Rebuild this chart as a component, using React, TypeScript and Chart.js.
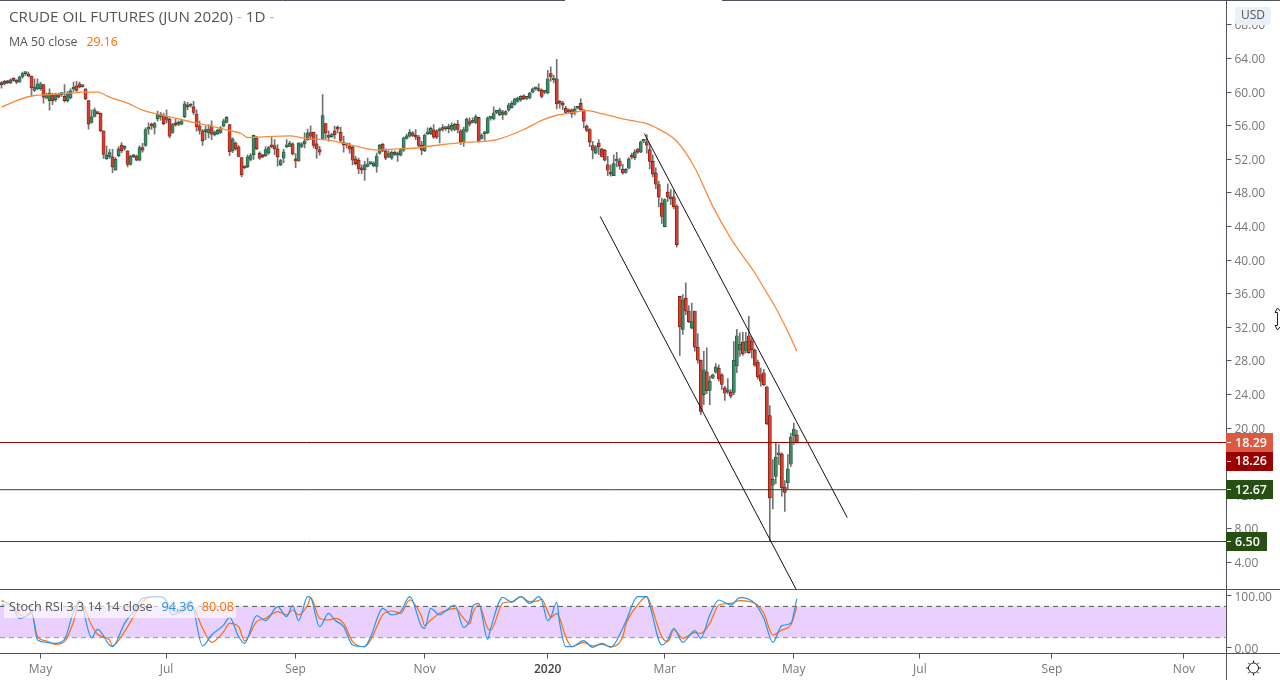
import React, { useEffect, useRef } from "react";
import Chart from "chart.js/auto";

const FONT = "'Open Sans', sans-serif";

// daily candles (bar index = position in the arrays)
const opens = [
  61.1, 61.0, 61.3, 61.1, 61.6, 61.26, 61.2, 61.8, 62.2, 62.05,
  61.9, 60.2, 60.4, 60.4, 60.9, 59.3, 59.0, 59.7, 59.1, 59.7,
  59.7, 59.5, 59.0, 59.3, 60.35, 60.75, 61.0, 60.65, 60.4, 59.0,
  56.4, 57.1, 57.5, 57.5, 55.4, 52.05, 52.3, 52.3, 50.7, 52.45,
  53.7, 53.3, 53.0, 51.4, 52.3, 52.4, 51.9, 53.4, 53.65, 55.6,
  56.1, 55.8, 56.85, 57.05, 57.2, 56.65, 56.8, 55.2, 56.25, 56.15,
  56.2, 57.05, 58.5, 58.35, 58.25, 57.4, 56.0, 55.4, 55.3, 55.15,
  56.0, 54.9, 55.05, 55.2, 55.95, 56.4, 56.15, 53.0, 53.95, 53.5,
  52.2, 51.1, 51.1, 52.0, 52.55, 54.55, 52.75, 52.5, 52.45, 52.75,
  53.65, 53.65, 53.25, 51.35, 52.15, 53.5, 53.55, 53.85, 52.05, 51.8,
  53.55, 53.85, 54.35, 55.2, 55.25, 53.85, 53.15, 54.5, 56.25, 54.9,
  54.7, 55.4, 55.75, 55.25, 53.9, 53.85, 53.6, 53.45, 52.05, 51.9,
  50.85, 50.75, 51.15, 51.5, 51.25, 51.15, 52.75, 53.8, 53.0, 52.35,
  52.15, 52.85, 52.5, 52.5, 53.1, 54.5, 54.75, 55.15, 54.85, 54.65,
  53.7, 53.0, 55.05, 55.05, 55.5, 55.35, 55.4, 55.75, 55.65, 55.7,
  55.55, 55.55, 56.2, 55.4, 53.95, 55.35, 56.5, 56.4, 56.4, 57.0,
  54.5, 55.05, 55.15, 56.9, 56.8, 57.6, 57.3, 57.65, 57.35, 57.85,
  58.15, 58.55, 58.9, 59.1, 59.55, 59.25, 59.3, 60.0, 60.4, 60.4,
  60.25, 60.0, 59.9, 62.2, 61.45, 61.6, 58.8, 58.7, 58.1, 57.65,
  57.9, 57.6, 58.1, 58.7, 57.9, 55.95, 55.55, 53.65, 52.75, 53.95,
  53.25, 53.1, 51.35, 50.5, 50.05, 51.8, 51.8, 50.85, 50.45, 50.95,
  52.5, 52.2, 53.15, 52.85, 54.15, 54.1, 53.15, 51.75, 50.4, 49.0,
  46.8, 44.0, 48.1, 47.3, 47.55, 46.45, 35.7, 31.75, 35.45, 33.95,
  31.9, 33.95, 29.65, 28.1, 24.0, 26.7, 24.5, 25.95, 26.65, 27.15,
  26.35, 24.8, 24.3, 24.3, 24.25, 27.4, 29.3, 30.25, 29.25, 31.0,
  30.4, 29.3, 27.85, 26.35, 26.6, 24.9, 21.5, 13.2, 14.25, 16.8,
  16.9, 13.0, 13.5, 15.7, 19.05, 19.2,
];
const highs = [
  61.26, 61.42, 61.4, 61.6, 61.7, 61.5, 61.9, 62.4, 62.4, 62.4,
  61.9, 61.6, 61.6, 61.2, 60.9, 59.9, 60.4, 59.9, 59.9, 59.9,
  59.9, 60.9, 60.1, 60.4, 61.2, 61.3, 61.2, 60.8, 60.4, 59.0,
  57.9, 58.1, 57.6, 57.5, 55.4, 53.6, 53.2, 53.2, 52.2, 53.5,
  54.0, 53.6, 53.0, 52.5, 52.6, 52.5, 53.6, 53.9, 55.75, 56.35,
  56.35, 56.4, 57.75, 57.6, 57.5, 57.9, 56.95, 56.3, 56.8, 56.6,
  56.8, 58.9, 58.8, 58.65, 58.9, 57.9, 56.55, 55.55, 55.95, 56.15,
  56.6, 55.4, 55.6, 55.9, 56.8, 57.1, 56.15, 54.55, 54.1, 53.65,
  52.2, 51.2, 52.55, 52.7, 54.9, 54.75, 52.9, 52.6, 53.5, 53.55,
  54.7, 54.35, 53.75, 52.0, 53.2, 54.35, 54.15, 54.0, 52.7, 54.0,
  54.0, 55.15, 55.6, 56.0, 55.25, 54.95, 53.55, 59.7, 56.25, 55.4,
  55.1, 55.95, 56.0, 55.85, 54.75, 53.95, 53.95, 53.55, 52.35, 52.15,
  51.35, 51.75, 52.15, 51.65, 51.7, 52.75, 53.8, 53.9, 53.25, 53.0,
  53.0, 53.0, 52.9, 53.3, 54.65, 55.0, 55.55, 55.3, 55.55, 54.85,
  54.15, 55.0, 55.75, 55.85, 56.15, 55.55, 55.75, 56.15, 55.85, 56.2,
  56.35, 56.3, 56.65, 55.55, 55.85, 56.95, 56.95, 56.95, 57.3, 57.0,
  55.05, 55.35, 57.05, 57.1, 58.25, 57.75, 58.1, 57.85, 57.8, 58.7,
  58.9, 59.3, 59.4, 59.6, 59.7, 59.4, 60.0, 60.5, 60.5, 61.0,
  60.4, 60.1, 62.6, 63.0, 62.0, 63.9, 59.0, 58.9, 58.3, 58.0,
  58.0, 58.3, 58.3, 59.2, 57.9, 56.1, 55.65, 54.15, 53.65, 54.35,
  53.35, 53.2, 52.35, 51.35, 52.55, 52.85, 52.15, 51.4, 50.9, 52.2,
  52.75, 53.15, 53.3, 54.2, 54.3, 54.95, 53.75, 52.55, 51.0, 49.4,
  47.4, 47.3, 49.1, 48.4, 48.3, 46.6, 35.7, 35.9, 37.3, 34.6,
  34.9, 33.95, 31.25, 28.1, 29.15, 29.55, 26.2, 26.45, 27.7, 27.55,
  26.5, 25.0, 25.9, 24.6, 30.3, 31.75, 31.35, 31.4, 31.4, 33.3,
  30.75, 29.45, 28.1, 27.15, 27.0, 25.0, 22.7, 16.25, 18.3, 18.05,
  17.05, 13.75, 16.85, 19.4, 20.6, 19.75,
];
const lows = [
  60.47, 60.86, 61.0, 61.0, 61.3, 61.0, 61.2, 61.65, 62.0, 61.8,
  59.5, 60.1, 60.3, 60.2, 58.7, 59.2, 57.85, 58.5, 58.9, 59.3,
  59.5, 58.8, 58.8, 59.2, 60.1, 60.1, 60.5, 60.6, 59.1, 55.6,
  56.3, 57.05, 57.4, 55.3, 52.1, 52.0, 52.1, 50.4, 50.7, 52.3,
  52.8, 53.1, 51.1, 51.3, 52.2, 51.8, 51.8, 52.85, 53.55, 55.0,
  55.55, 55.0, 56.55, 56.65, 56.1, 56.35, 54.55, 55.1, 55.95, 56.0,
  56.1, 56.95, 57.9, 58.2, 57.35, 55.35, 55.0, 53.65, 54.35, 54.55,
  54.35, 54.8, 54.95, 55.1, 55.85, 56.35, 52.45, 52.8, 53.1, 52.3,
  49.9, 50.9, 51.0, 51.8, 52.0, 53.15, 52.0, 52.2, 52.35, 52.6,
  53.35, 52.55, 51.2, 51.25, 51.6, 53.35, 53.5, 52.5, 51.0, 51.75,
  53.4, 53.35, 54.25, 54.35, 53.35, 52.15, 52.5, 54.45, 54.45, 54.15,
  54.6, 54.45, 55.15, 53.95, 52.85, 53.35, 52.75, 51.35, 51.35, 50.3,
  50.3, 49.5, 51.1, 51.4, 51.1, 50.45, 52.6, 52.9, 51.95, 52.2,
  52.0, 52.45, 51.75, 52.4, 52.95, 54.4, 54.65, 54.7, 54.35, 53.35,
  52.55, 52.9, 54.95, 54.95, 54.5, 54.45, 53.95, 55.35, 55.45, 55.15,
  55.35, 55.4, 55.15, 53.75, 53.55, 55.25, 55.95, 56.35, 56.25, 54.05,
  54.4, 54.25, 55.05, 56.65, 56.7, 57.45, 57.2, 56.75, 57.25, 57.75,
  58.1, 58.45, 58.8, 58.9, 59.1, 59.1, 59.2, 59.9, 60.25, 60.1,
  59.3, 59.8, 59.8, 61.3, 61.1, 58.0, 58.1, 57.9, 57.5, 57.55,
  57.0, 57.3, 58.0, 57.85, 55.75, 55.3, 53.5, 52.05, 52.65, 52.55,
  52.25, 51.8, 50.05, 50.0, 50.05, 51.1, 50.8, 50.2, 50.35, 50.85,
  52.05, 51.95, 52.7, 52.8, 54.0, 52.75, 50.85, 49.9, 48.5, 46.35,
  44.35, 43.95, 47.0, 46.6, 46.1, 41.55, 28.65, 31.15, 33.5, 32.55,
  31.8, 29.15, 27.75, 21.6, 22.8, 24.1, 22.8, 25.9, 26.55, 25.6,
  24.6, 23.3, 24.1, 23.6, 24.0, 26.6, 28.55, 28.65, 28.95, 28.9,
  28.35, 27.35, 25.85, 25.0, 25.05, 20.4, 6.5, 10.4, 13.4, 15.65,
  11.9, 10.1, 12.75, 15.45, 18.05, 18.25,
];
const closes = [
  60.9, 61.3, 61.1, 61.46, 61.4, 61.2, 61.8, 62.2, 62.2, 61.9,
  60.5, 60.6, 61.0, 61.0, 59.4, 59.6, 59.9, 59.0, 59.7, 59.4,
  59.7, 59.0, 59.9, 60.15, 60.6, 60.2, 60.6, 60.7, 59.2, 56.2,
  57.05, 57.9, 57.45, 55.4, 52.6, 52.5, 52.8, 51.1, 52.0, 53.25,
  53.0, 53.3, 51.4, 52.4, 52.4, 51.9, 53.4, 53.1, 55.55, 55.6,
  55.95, 56.25, 57.35, 57.35, 56.25, 57.05, 54.75, 56.15, 56.1, 56.4,
  56.6, 58.6, 58.25, 58.35, 57.6, 55.85, 55.45, 54.2, 55.3, 55.6,
  55.0, 55.25, 55.45, 55.75, 56.6, 57.0, 52.9, 54.45, 53.25, 52.35,
  50.15, 51.0, 52.3, 52.45, 54.85, 53.25, 52.15, 52.3, 53.15, 53.4,
  53.5, 53.25, 52.3, 51.85, 52.9, 53.5, 53.95, 52.65, 51.8, 53.95,
  53.85, 54.2, 55.15, 54.75, 53.65, 53.25, 52.85, 57.2, 55.15, 54.6,
  54.9, 54.9, 55.6, 54.25, 53.75, 53.7, 53.2, 51.9, 51.5, 50.85,
  50.75, 51.35, 51.45, 51.55, 51.55, 52.4, 53.7, 53.0, 52.15, 52.7,
  52.85, 52.6, 52.6, 53.15, 54.55, 54.8, 55.25, 54.85, 54.65, 53.65,
  53.1, 54.9, 55.05, 55.7, 54.65, 54.65, 55.6, 55.55, 55.65, 55.65,
  56.05, 56.2, 55.55, 54.05, 55.55, 56.8, 56.2, 56.55, 57.1, 54.15,
  54.9, 55.05, 56.95, 56.9, 57.55, 57.6, 57.9, 57.35, 57.7, 58.5,
  58.7, 59.2, 59.3, 59.5, 59.2, 59.25, 59.9, 60.4, 60.4, 60.2,
  59.5, 60.0, 61.6, 61.8, 61.45, 58.6, 58.7, 58.45, 57.6, 57.9,
  57.4, 58.0, 58.1, 57.9, 56.55, 55.45, 54.05, 53.1, 53.5, 53.5,
  52.35, 51.9, 50.7, 50.25, 51.5, 51.8, 51.2, 50.4, 50.8, 52.05,
  52.25, 52.9, 52.85, 54.1, 54.15, 53.7, 51.75, 50.25, 49.05, 47.5,
  45.2, 47.2, 47.5, 47.3, 46.35, 41.85, 32.05, 35.25, 33.95, 32.65,
  32.7, 29.65, 28.1, 22.0, 26.95, 24.45, 25.6, 26.35, 27.3, 25.85,
  25.2, 24.15, 24.55, 23.8, 28.1, 31.0, 30.0, 28.85, 30.3, 29.0,
  29.35, 27.5, 26.1, 25.6, 25.15, 20.5, 11.7, 13.9, 16.55, 17.05,
  12.9, 12.35, 15.15, 18.95, 19.9, 18.3,
];

// MA 50, read at the turning points of the curve
const maIndex = [
  0, 5, 11, 16, 22, 27, 32, 36, 42, 47, 53, 58, 64, 70, 75, 80, 82, 88, 96, 101,
  109, 116, 121, 125, 132, 138, 141, 148, 155, 161, 166, 174, 180, 185, 190, 195,
  200, 208, 215, 219, 225, 231, 237, 243, 247, 251, 254, 258, 262, 265,
];
const maValues = [
  58.2, 59.0, 59.6, 59.7, 59.85, 60.0, 60.0, 59.4, 58.7, 57.85, 57.3, 56.9, 56.4, 55.95, 55.5, 55.05, 54.6, 54.7, 54.8, 54.5,
  54.3, 53.75, 53.3, 53.1, 53.25, 53.35, 53.5, 53.8, 54.05, 54.15, 54.45, 55.55, 56.65, 57.25, 57.55, 57.8,
  57.45, 56.75, 56.25, 55.6, 54.15, 51.0, 46.4, 42.6, 40.5, 38.5, 36.7, 34.3, 31.5, 29.16,
];

// Stoch RSI
const stochIndex = [
  0, 3, 6, 8, 10, 12, 15, 18, 21, 24, 26, 30, 32, 36, 37, 41, 44, 47, 51, 54,
  57, 60, 63, 67, 70, 74, 76, 79, 81, 85, 88, 92, 95, 97, 99, 102, 103, 106, 109, 111,
  114, 117, 121, 123, 127, 130, 133, 136, 140, 141, 143, 146, 148, 151, 154, 156, 157, 159, 162, 163,
  167, 170, 173, 176, 179, 180, 182, 183, 185, 186, 188, 190, 194, 197, 200, 203, 207, 208, 212, 215,
  216, 220, 222, 224, 227, 231, 233, 236, 239, 243, 246, 251, 254, 257, 260, 263, 265,
];
const stochK = [
  82.7, 82.7, 57, 60.3, 69.9, 15.4, 10.9, 9, 16.7, 69.9, 91, 19.9, 35.9, 5.8, 2.6, 47.4, 69.9, 95.5, 98.7, 96.8,
  63.5, 73, 90.4, 3.8, 25, 44, 59, 21.8, 9, 62.2, 52.6, 79.5, 60.3, 81.4, 52.6, 98.7, 96.8, 41, 66.7, 53.8,
  41, 5.8, 2.6, 21.8, 76.3, 63.5, 69.9, 98.7, 41, 37.8, 76.3, 63.5, 71.1, 82.7, 39.7, 53.8, 79.5, 85.9, 16.7, 37.8,
  97.4, 87.8, 98.7, 85.9, 98.7, 92.3, 52.6, 58.3, 87.8, 47.4, 2.6, 2.6, 14.1, 1.3, 9, 1.3, 37.8, 50.6, 98.7, 98.7,
  82.7, 5.8, 15.4, 37.8, 10.9, 33.3, 18.6, 63.5, 92.3, 82.7, 96.8, 85.9, 57, 10.9, 43, 47.4, 94.36,
];
const stochD = [
  91, 82.7, 64.7, 60.3, 66.7, 21.8, 13.5, 7, 12.2, 50.6, 89, 44.2, 26.3, 15.4, 3.9, 31.4, 60.3, 89, 98.7, 96.8,
  73, 68.6, 85.9, 37.8, 10.9, 31.4, 47.4, 41, 13.5, 50.6, 57, 69.9, 63.5, 73, 63.5, 82.7, 96.8, 57, 53.8, 57,
  47.4, 12.2, 2.6, 15.4, 63.5, 71.1, 66.7, 92.3, 60.3, 43, 53.8, 66.7, 71.8, 76.3, 57, 46.1, 66.7, 82.7, 37.8, 34.6,
  85.9, 89, 98.7, 89, 91, 94.2, 69.9, 59, 66.7, 57, 21.8, 2.6, 10.9, 3.9, 7, 2.6, 21.8, 44.2, 82.7, 98.7,
  89, 21.8, 12.2, 34.6, 18.6, 29.5, 28.2, 47.4, 82.7, 85.9, 91, 85.9, 66.7, 25, 34.6, 44.2, 80.08,
];
const bandLevels = [80, 20];

// channel lines and horizontal levels
const upperChannelX = [214.2, 281.8];
const upperChannelY = [55.07, 9.36];
const lowerChannelX = [199.5, 264.8];
const lowerChannelY = [45.2, 0.79];
const levelValues = [18.29, 12.67, 6.5];
const levelColors = ["#990000", "#274e13", "#274e13"];

const priceTicks = [4, 8, 12, 16, 20, 24, 28, 32, 36, 40, 44, 48, 52, 56, 60, 64, 68];
const stochTicks = [0, 100];
const xTickIndex = [13, 55, 98, 141, 182, 221, 264, 306, 350, 394];
const xTickLabels = ["May", "Jul", "Sep", "Nov", "2020", "Mar", "May", "Jul", "Sep", "Nov"];

const X_MIN = -0.5;
const X_MAX = 408.17;

const text = (ctx: CanvasRenderingContext2D, s: string, x: number, y: number, color: string, font: string, align: CanvasTextAlign = "left") => {
  ctx.fillStyle = color;
  ctx.font = font;
  ctx.textAlign = align;
  ctx.textBaseline = "middle";
  ctx.fillText(s, x, y);
  return ctx.measureText(s).width;
};

const hline = (ctx: CanvasRenderingContext2D, x1: number, x2: number, y: number) => {
  ctx.beginPath();
  ctx.moveTo(x1, y);
  ctx.lineTo(x2, y);
  ctx.stroke();
};

// the axes must not push the plot area in for their first and last labels
const noPadding = (axis: any) => {
  axis.paddingTop = 0;
  axis.paddingBottom = 0;
  axis.paddingLeft = 0;
  axis.paddingRight = 0;
};

// frame, legends, price tags and the small toolbar glyphs
const overlay = {
  id: "overlay",
  afterDraw(chart: any) {
    const ctx: CanvasRenderingContext2D = chart.ctx;
    const y = chart.scales.y;
    const tags = [
      { label: "18.29", value: 18.29, shift: 0, bg: "#dd5a42", w: 47 },
      { label: "18.26", value: 18.29, shift: 18.5, bg: "#990000", w: 47 },
      { label: "12.67", value: 12.67, shift: 0, bg: "#274e13", w: 47 },
      { label: "6.50", value: 6.5, shift: 0, bg: "#274e13", w: 41 },
    ];
    ctx.save();

    // pane frame
    ctx.strokeStyle = "#50535e";
    ctx.lineWidth = 1;
    hline(ctx, 0, 565, 0.5);
    hline(ctx, 722, 1280, 0.5);
    hline(ctx, 0, 1280, 589.5);
    hline(ctx, 0, 1280, 653.5);
    ctx.beginPath();
    ctx.moveTo(1226.5, 0);
    ctx.lineTo(1226.5, 680);
    ctx.stroke();

    // title and MA legend
    const titleFont = `15.2px ${FONT}`;
    let tx = 9;
    tx += text(ctx, "CRUDE OIL FUTURES (JUN 2020)", tx, 18, "#555555", titleFont);
    tx += text(ctx, " - ", tx, 18, "#b2b5be", titleFont);
    tx += text(ctx, "1D", tx, 18, "#555555", titleFont);
    text(ctx, " -", tx, 18, "#b2b5be", titleFont);
    const legendFont = `12.3px ${FONT}`;
    const w = text(ctx, "MA 50 close", 9, 42, "#555555", legendFont);
    text(ctx, "29.16", 9 + w + 9, 42, "#ff6d00", legendFont);

    // stoch legend sits on a washed-out strip
    ctx.fillStyle = "rgba(255,255,255,0.65)";
    ctx.fillRect(4, 596, 232, 22);
    const stochFont = `12.6px ${FONT}`;
    const sw = text(ctx, "Stoch RSI 3 3 14 14 close", 9, 607, "#555555", stochFont);
    const kw = text(ctx, "94.36", 9 + sw + 9, 607, "#2196f3", stochFont);
    text(ctx, "80.08", 9 + sw + 9 + kw + 8, 607, "#ff6d00", stochFont);

    // USD badge
    ctx.fillStyle = "#eaf0f8";
    ctx.beginPath();
    ctx.roundRect(1235, 7, 36, 18, 3);
    ctx.fill();
    text(ctx, "USD", 1253, 16, "#555555", `12px ${FONT}`, "center");

    // price tags
    tags.forEach((t) => {
      const cy = y.getPixelForValue(t.value) + t.shift;
      ctx.fillStyle = t.bg;
      ctx.fillRect(1226, Math.round(cy - 9.5), t.w, 19);
      ctx.strokeStyle = "#ffffff";
      hline(ctx, 1227, 1231, Math.round(cy - 0.5) + 0.5);
      text(ctx, t.label, 1235, cy + 0.5, "#ffffff", `600 12.5px ${FONT}`);
    });

    // settings sun
    ctx.strokeStyle = "#222222";
    ctx.beginPath();
    ctx.arc(1253.5, 668, 5, 0, Math.PI * 2);
    ctx.stroke();
    for (let a = 0; a < 8; a++) {
      const c = Math.cos((a * Math.PI) / 4);
      const s = Math.sin((a * Math.PI) / 4);
      ctx.beginPath();
      ctx.moveTo(1253.5 + c * 5, 668 + s * 5);
      ctx.lineTo(1253.5 + c * 7.5, 668 + s * 7.5);
      ctx.stroke();
    }

    // resize cursor cut off by the right edge
    ctx.strokeStyle = "#222222";
    ctx.beginPath();
    ctx.moveTo(1280, 311);
    ctx.lineTo(1277.5, 308);
    ctx.lineTo(1275, 312.5);
    ctx.lineTo(1277.5, 312.5);
    ctx.lineTo(1277.5, 325.5);
    ctx.lineTo(1275, 325.5);
    ctx.lineTo(1277.5, 330);
    ctx.lineTo(1280, 327);
    ctx.stroke();
    ctx.restore();
  },
};

const App = () => {
  const canvasRef = useRef<HTMLCanvasElement | null>(null);

  useEffect(() => {
    document.body.style.margin = "0";
    if (!canvasRef.current) return;

    const isUp = closes.map((c, i) => c >= opens[i]);
    const line = (data: any[], color: string, yAxisID = "y", extra: any = {}) => ({
      type: "line" as const,
      data,
      yAxisID,
      borderColor: color,
      borderWidth: 1,
      pointRadius: 0,
      tension: 0,
      ...extra,
    });

    const chart = new Chart(canvasRef.current, {
      type: "bar",
      data: {
        datasets: [
          // stoch band first so everything lands on top of it
          line([{ x: X_MIN, y: bandLevels[0] }, { x: X_MAX, y: bandLevels[0] }], "#555555", "y2", {
            borderDash: [5, 4],
            fill: "+1",
            backgroundColor: "#e9d0fe",
            order: 9,
          }),
          line([{ x: X_MIN, y: bandLevels[1] }, { x: X_MAX, y: bandLevels[1] }], "#555555", "y2", {
            borderDash: [5, 4],
            order: 9,
          }),
          {
            data: highs.map((h, i) => ({ x: i, y: [lows[i], h] })),
            backgroundColor: "#737373",
            borderWidth: 0,
            barThickness: 1,
            grouped: false,
            order: 6,
          },
          {
            data: opens.map((o, i) => ({ x: i, y: [o, closes[i]] })),
            backgroundColor: isUp.map((u) => (u ? "#3b8a63" : "#d93d2b")),
            borderColor: isUp.map((u) => (u ? "#1f4d35" : "#5c1a12")),
            borderWidth: 0.7,
            borderSkipped: false,
            barThickness: 3.2,
            minBarLength: 2,
            grouped: false,
            order: 5,
          },
          line(maIndex.map((x, i) => ({ x, y: maValues[i] })), "#f98b3c", "y", { order: 4, borderWidth: 1.3, cubicInterpolationMode: "monotone" }),
          line(upperChannelX.map((x, i) => ({ x, y: upperChannelY[i] })), "#111111", "y", { order: 3 }),
          line(lowerChannelX.map((x, i) => ({ x, y: lowerChannelY[i] })), "#111111", "y", { order: 3 }),
          ...levelValues.map((v, i) =>
            line([{ x: X_MIN, y: v }, { x: X_MAX, y: v }], levelColors[i], "y", { order: 3 })
          ),
          line(stochIndex.map((x, i) => ({ x, y: stochD[i] })), "#ff6d00", "y2", { order: 2, borderWidth: 1.2, cubicInterpolationMode: "monotone" }),
          line(stochIndex.map((x, i) => ({ x, y: stochK[i] })), "#2196f3", "y2", { order: 1, borderWidth: 1.2, cubicInterpolationMode: "monotone" }),
        ] as any,
      },
      options: {
        responsive: false,
        animation: false,
        layout: { padding: 0, autoPadding: false },
        plugins: { legend: { display: false }, tooltip: { enabled: false } },
        scales: {
          x: {
            type: "linear",
            min: X_MIN,
            max: X_MAX,
            offset: false,
            border: { display: false },
            grid: { drawOnChartArea: false, tickLength: 5, color: "#50535e", offset: false },
            afterBuildTicks: (axis: any) => {
              axis.ticks = xTickIndex.map((value) => ({ value }));
            },
            afterFit: (axis: any) => {
              axis.height = 26.5;
              noPadding(axis);
            },
            ticks: {
              autoSkip: false,
              maxRotation: 0,
              padding: 4,
              color: (c: any) => (c.index === 4 ? "#444444" : "#777777"),
              font: (c: any) => ({ family: FONT, size: 12, weight: c.index === 4 ? "600" : "400" }),
              callback: (_v: any, i: number) => xTickLabels[i],
            },
          },
          y: {
            position: "right",
            stack: "panes",
            stackWeight: 590,
            min: 0.733,
            max: 70.97,
            border: { display: false },
            grid: { drawOnChartArea: false, tickLength: 5, color: "#50535e" },
            afterBuildTicks: (axis: any) => {
              axis.ticks = priceTicks.map((value) => ({ value }));
            },
            afterFit: (axis: any) => {
              axis.width = 53.5;
              noPadding(axis);
            },
            ticks: {
              autoSkip: false,
              padding: 3,
              labelOffset: 1,
              color: "#777777",
              font: { family: FONT, size: 12 },
              callback: (v: any) => Number(v).toFixed(2),
            },
          },
          y2: {
            position: "right",
            stack: "panes",
            stackWeight: 63.5,
            min: -10.6,
            max: 111.5,
            border: { display: false },
            grid: { drawOnChartArea: false, tickLength: 5, color: "#50535e" },
            afterBuildTicks: (axis: any) => {
              axis.ticks = stochTicks.map((value) => ({ value }));
            },
            afterFit: (axis: any) => {
              axis.width = 53.5;
              noPadding(axis);
            },
            ticks: {
              autoSkip: false,
              padding: 3,
              labelOffset: 1.5,
              color: "#777777",
              font: { family: FONT, size: 12 },
              callback: (v: any) => Number(v).toFixed(2),
            },
          },
        },
      } as any,
      plugins: [overlay],
    });

    return () => chart.destroy();
  }, []);

  return <canvas ref={canvasRef} width={1280} height={680} style={{ display: "block" }} />;
};

export default App;
